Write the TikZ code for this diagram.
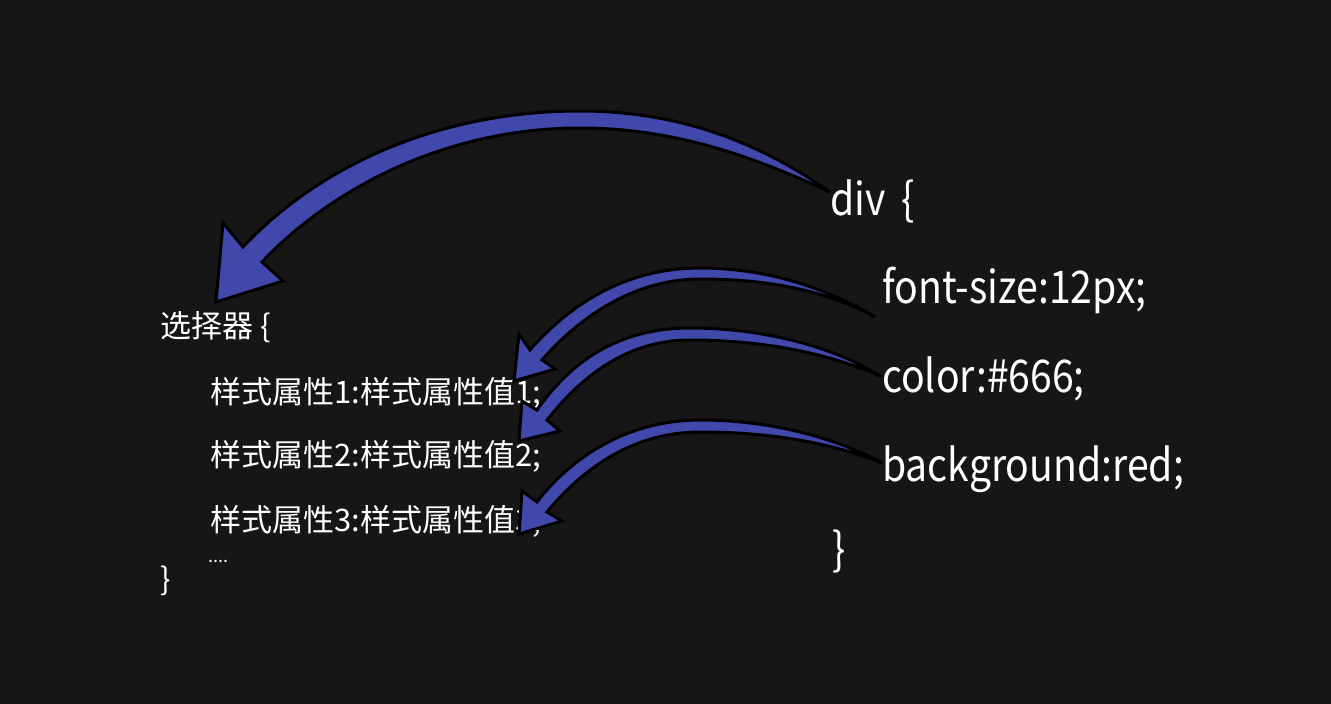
\documentclass[tikz,border=0pt]{standalone}
\usepackage{fontspec}
\setmainfont{Noto Sans CJK SC}
\definecolor{bg}{RGB}{22,22,22}
\definecolor{arrowblue}{RGB}{64,72,172}
\newcommand{\narrowtext}[1]{\scalebox{0.87}[1]{#1}}
\begin{document}
\begin{tikzpicture}[x=1pt,y=-1pt,
  txt/.style={text=white, inner sep=0pt, anchor=base west},
  lefttxt/.style={txt, font=\fontsize{31}{36}\selectfont},
  righttxt/.style={txt, font=\fontsize{45}{54}\selectfont},
  curvearrow/.style={fill=arrowblue, draw=black, line width=3pt, line join=miter, miter limit=5}]
\fill[bg] (0,0) rectangle (1331,704);
\useasboundingbox (0,0) rectangle (1331,704);
% left block
\node[lefttxt] (sel) at (160,337) {选择器 \{};
\node[lefttxt] (l1) at (210,403) {样式属性1:样式属性值1;};
\node[lefttxt] (l2) at (210,466) {样式属性2:样式属性值2;};
\node[lefttxt] (l3) at (210,531) {样式属性3:样式属性值3;};
\node[txt, font=\fontsize{18}{20}\selectfont] (dots) at (208,562) {....};
\node[lefttxt] (lend) at (160,590) {\}};
% right block
\node[righttxt] (div) at (830,215) {\narrowtext{div\hspace{0.4em}\{}};
\node[righttxt] (fs) at (882,303) {\narrowtext{font-size:12px;}};
\node[righttxt] (col) at (882,392) {\narrowtext{color:\#666;}};
\node[righttxt] (bgr) at (882,481) {\narrowtext{background:red;}};
\node[righttxt] (rend) at (832,565) {\narrowtext{\}}};
% big arrow: div -> selector
\draw[curvearrow] (830,192) .. controls (770,150) and (690,111) .. (580,111)
  .. controls (440,111) and (320,165) .. (243,247) -- (223,223) -- (216,302) -- (283,281) -- (262,262)
  .. controls (335,185) and (450,128) .. (580,128)
  .. controls (680,128) and (760,160) .. (830,192) -- cycle;
% arrow 1: font-size -> line 1
\draw[curvearrow] (875,317) .. controls (830,290) and (770,268) .. (700,268)
  .. controls (620,268) and (565,310) .. (530,350) -- (519,334) -- (514,381) -- (555,369) -- (542,360)
  .. controls (575,322) and (630,279) .. (700,279)
  .. controls (780,279) and (835,295) .. (875,317) -- cycle;
% arrow 2: color -> line 2
\draw[curvearrow] (882,377) .. controls (840,350) and (770,328) .. (690,328)
  .. controls (610,328) and (565,370) .. (537,410) -- (522,401) -- (519,441) -- (560,431) -- (547,420)
  .. controls (575,385) and (620,340) .. (690,340)
  .. controls (780,340) and (845,360) .. (882,377) -- cycle;
% arrow 3: background -> line 3
\draw[curvearrow] (882,463) .. controls (840,440) and (775,420) .. (700,420)
  .. controls (620,420) and (565,465) .. (537,502) -- (522,491) -- (519,534) -- (562,521) -- (547,512)
  .. controls (575,478) and (625,432) .. (700,432)
  .. controls (785,432) and (845,448) .. (882,463) -- cycle;
\end{tikzpicture}
\end{document}
